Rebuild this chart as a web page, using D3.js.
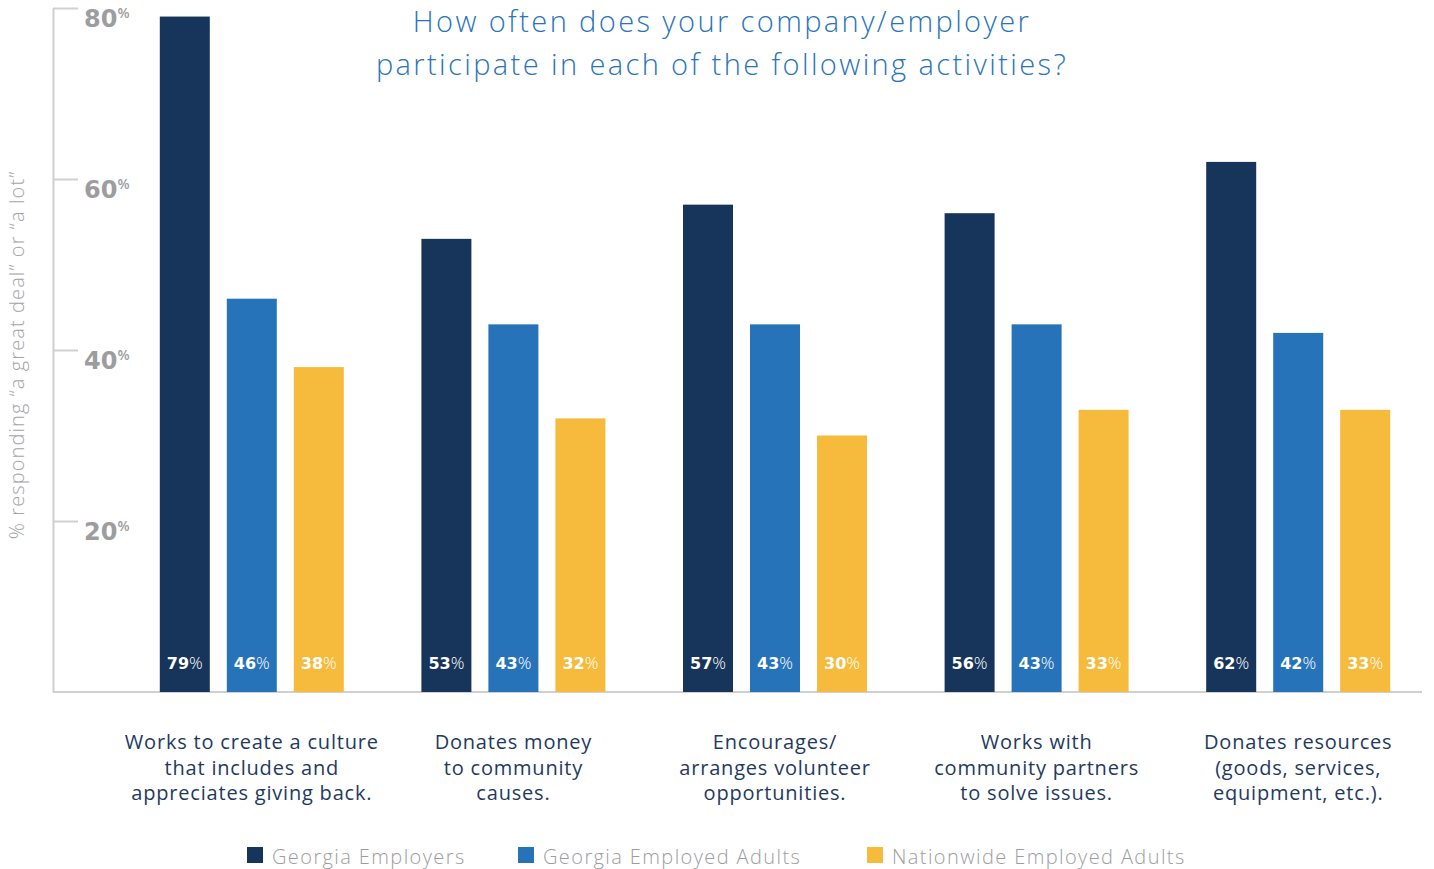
<!DOCTYPE html>
<html>
<head>
<meta charset="utf-8">
<script src="https://cdn.jsdelivr.net/npm/d3@7"></script>
<style>
    body { margin: 0; background: #fff; }
    svg { display: block; font-family: 'Open Sans', Lato, sans-serif; }
</style>
</head>
<body>
<div id="chart"></div>
<script>
// Data
const categories = [
    ['Works to create a culture', 'that includes and', 'appreciates giving back.'],
    ['Donates money', 'to community', 'causes.'],
    ['Encourages/', 'arranges volunteer', 'opportunities.'],
    ['Works with', 'community partners', 'to solve issues.'],
    ['Donates resources', '(goods, services,', 'equipment, etc.).']
];
const seriesNames = ['Georgia Employers', 'Georgia Employed Adults', 'Nationwide Employed Adults'];
const georgiaEmployers = [79, 53, 57, 56, 62];
const georgiaAdults = [46, 43, 43, 43, 42];
const nationwideAdults = [38, 32, 30, 33, 33];
const yTicks = [20, 40, 60, 80];

const colors = ['#17355b', '#2673ba', '#f6bb3c'];
const seriesValues = [georgiaEmployers, georgiaAdults, nationwideAdults];

const width = 1434, height = 869;
const svg = d3.select('#chart').append('svg')
    .attr('width', width)
    .attr('height', height);

// Scales
const catIdx = d3.range(categories.length);
const x0 = d3.scaleBand()
    .domain(catIdx)
    .range([121, 1429])
    .padding(0);

const x1 = d3.scaleBand()
    .domain(d3.range(seriesNames.length))
    .range([-92, 92])
    .paddingInner(17 / 67)
    .paddingOuter(0);

const y = d3.scaleLinear()
    .domain([0, 80])
    .range([692, 8]);

// Title
svg.append('text')
    .attr('text-anchor', 'middle')
    .style('font-size', '29px')
    .style('font-weight', 300)
    .style('letter-spacing', '2.4px')
    .style('fill', '#2a74bb')
    .selectAll('tspan')
    .data(['How often does your company/employer', 'participate in each of the following activities?'])
    .enter()
    .append('tspan')
    .attr('x', 722)
    .attr('y', (d, i) => 32 + i * 43)
    .text(d => d);

// Y axis (ticks to the right of the line)
const yAxis = svg.append('g')
    .attr('transform', 'translate(53,0)')
    .call(d3.axisRight(y).tickValues(yTicks).tickSize(25).tickFormat('').tickSizeOuter(0));
yAxis.select('.domain').attr('stroke', '#d0d0d3').attr('stroke-width', 2);
yAxis.selectAll('.tick line').attr('stroke', '#d0d0d3').attr('stroke-width', 2);

// Tick labels
const tickLabels = svg.append('g').selectAll('text')
    .data(yTicks)
    .enter()
    .append('text')
    .attr('x', 84)
    .attr('y', d => y(d) + 19)
    .style('fill', '#9d9d9f')
    .style('font-family', "'DejaVu Sans', sans-serif")
    .style('font-weight', 'bold')
    .style('font-size', '24px');
tickLabels.append('tspan').text(d => d);
tickLabels.append('tspan')
    .attr('dy', -9)
    .style('font-family', "'Open Sans', sans-serif")
    .style('font-size', '14px')
    .style('font-weight', 600)
    .text('%');

// Y label
svg.append('text')
    .attr('transform', 'translate(24,355) rotate(-90)')
    .attr('text-anchor', 'middle')
    .style('font-size', '20px')
    .style('font-weight', 300)
    .style('letter-spacing', '1.1px')
    .style('fill', '#a5a5a8')
    .text('% responding \u201ca great deal\u201d or \u201ca lot\u201d');

// Baseline
svg.append('line')
    .attr('x1', 53).attr('x2', 1422)
    .attr('y1', y(0)).attr('y2', y(0))
    .attr('stroke', '#d0d0d3')
    .attr('stroke-width', 2);

// Bars
const groups = svg.append('g').selectAll('g')
    .data(catIdx)
    .enter()
    .append('g')
    .attr('transform', i => `translate(${x0(i) + x0.bandwidth() / 2},0)`);

const barData = i => seriesValues.map((vals, s) => ({ s, v: vals[i] }));

groups.selectAll('rect')
    .data(barData)
    .enter()
    .append('rect')
    .attr('x', d => x1(d.s))
    .attr('width', x1.bandwidth())
    .attr('y', d => y(d.v))
    .attr('height', d => y(0) - y(d.v))
    .attr('fill', d => colors[d.s]);

// Value labels
const valLabels = groups.selectAll('text.val')
    .data(barData)
    .enter()
    .append('text')
    .attr('class', 'val')
    .attr('x', d => x1(d.s) + x1.bandwidth() / 2)
    .attr('y', 669)
    .attr('text-anchor', 'middle')
    .style('fill', '#fff')
    .style('font-size', '16px');
valLabels.append('tspan')
    .style('font-family', "'DejaVu Sans', sans-serif")
    .style('font-weight', 'bold')
    .text(d => d.v);
valLabels.append('tspan')
    .style('font-weight', 300)
    .style('font-size', '17px')
    .text('%');

// Category labels
groups.append('text')
    .attr('text-anchor', 'middle')
    .style('font-size', '20px')
    .style('font-weight', 400)
    .style('letter-spacing', '0.8px')
    .style('fill', '#1f3a60')
    .selectAll('tspan')
    .data(i => categories[i])
    .enter()
    .append('tspan')
    .attr('x', 0)
    .attr('y', (d, k) => 749 + k * 25.5)
    .text(d => d);

// Legend
const legendX = [247, 518, 867];
const legend = svg.append('g').selectAll('g')
    .data(seriesNames)
    .enter()
    .append('g')
    .attr('transform', (d, i) => `translate(${legendX[i]},847)`);
legend.append('rect')
    .attr('width', 16).attr('height', 16)
    .attr('fill', (d, i) => colors[i]);
legend.append('text')
    .attr('x', 25)
    .attr('y', 17)
    .style('font-size', '20px')
    .style('font-weight', 300)
    .style('letter-spacing', '1.4px')
    .style('fill', '#9d9d9f')
    .text(d => d);
</script>
</body>
</html>
